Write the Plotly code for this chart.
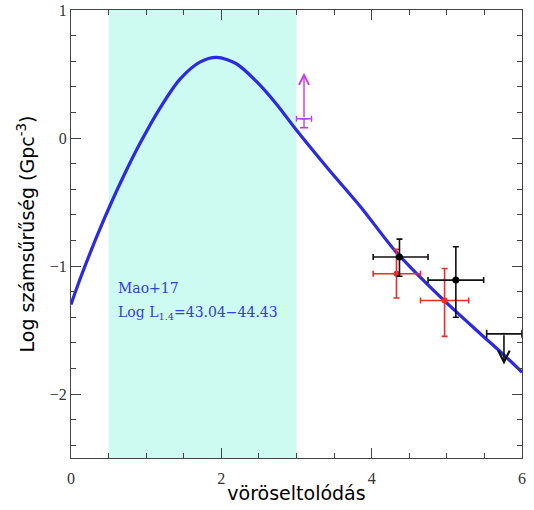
import plotly.graph_objects as go

# Model curve
curve_z = [0.0, 0.09, 0.23, 0.36, 0.54, 0.71, 0.92, 1.18, 1.45, 1.72, 1.94, 2.20, 2.47, 2.74, 2.98, 3.42, 3.87, 4.31, 4.91, 5.39, 5.75, 6.0]
curve_y = [-1.30, -1.15, -0.935, -0.745, -0.50, -0.285, -0.04, 0.23, 0.46, 0.595, 0.63, 0.58, 0.44, 0.26, 0.076, -0.24, -0.55, -0.88, -1.24, -1.50, -1.69, -1.83]

# Shaded redshift range
band = [0.5, 3.0]

# Black points
blk_z = [4.37, 5.12]
blk_y = [-0.93, -1.11]
blk_xm = [0.35, 0.37]
blk_xp = [0.38, 0.37]
blk_ym = [0.15, 0.29]
blk_yp = [0.14, 0.26]

# Red points
red_z = [4.33, 4.97]
red_y = [-1.06, -1.27]
red_xm = [0.31, 0.32]
red_xp = [0.32, 0.32]
red_ym = [0.19, 0.28]
red_yp = [0.19, 0.25]

# Magenta lower limit
mag_z = [3.10]
mag_y = [0.15]
mag_xerr = [0.10]
mag_ym = [0.07]
mag_arrow_to = [0.51]

# Black upper limit
ul_z = [5.76]
ul_y = [-1.53]
ul_xm = [0.23]
ul_xp = [0.24]
ul_arrow_to = [-1.77]

fig = go.Figure()

fig.add_vrect(x0=band[0], x1=band[1], fillcolor="#cdfaf1", line_width=0, layer="below")

fig.add_trace(go.Scatter(x=curve_z, y=curve_y, mode="lines",
                         line=dict(color="#2a2ae6", width=3.2, shape="spline", smoothing=0.8),
                         showlegend=False, hoverinfo="skip"))

fig.add_trace(go.Scatter(x=red_z, y=red_y, mode="markers",
                         marker=dict(color="#ee2a2a", size=6),
                         error_x=dict(type="data", symmetric=False, array=red_xp, arrayminus=red_xm,
                                      color="#ee2a2a", thickness=1.6, width=3),
                         error_y=dict(type="data", symmetric=False, array=red_yp, arrayminus=red_ym,
                                      color="#ee2a2a", thickness=1.6, width=3),
                         showlegend=False))

fig.add_trace(go.Scatter(x=blk_z, y=blk_y, mode="markers",
                         marker=dict(color="black", size=7),
                         error_x=dict(type="data", symmetric=False, array=blk_xp, arrayminus=blk_xm,
                                      color="#111111", thickness=1.6, width=3),
                         error_y=dict(type="data", symmetric=False, array=blk_yp, arrayminus=blk_ym,
                                      color="#111111", thickness=1.6, width=3),
                         showlegend=False))

fig.add_trace(go.Scatter(x=mag_z, y=mag_y, mode="markers",
                         marker=dict(color="#c23ce8", size=2),
                         error_x=dict(type="data", array=mag_xerr, color="#c23ce8", thickness=1.4, width=3),
                         error_y=dict(type="data", symmetric=False, array=[0], arrayminus=mag_ym,
                                      color="#c23ce8", thickness=1.4, width=4),
                         showlegend=False))

fig.add_trace(go.Scatter(x=ul_z, y=ul_y, mode="markers",
                         marker=dict(color="#111111", size=2),
                         error_x=dict(type="data", symmetric=False, array=ul_xp, arrayminus=ul_xm,
                                      color="#111111", thickness=1.6, width=4),
                         showlegend=False, cliponaxis=False))

for z, y0, y1 in zip(mag_z, mag_y, mag_arrow_to):
    fig.add_annotation(x=z, y=y1, ax=z, ay=y0, xref="x", yref="y", axref="x", ayref="y",
                       showarrow=True, arrowhead=5, arrowsize=1.4, arrowwidth=1.4,
                       arrowcolor="#c23ce8", text="")
for z, y0, y1 in zip(ul_z, ul_y, ul_arrow_to):
    fig.add_annotation(x=z, y=y1, ax=z, ay=y0, xref="x", yref="y", axref="x", ayref="y",
                       showarrow=True, arrowhead=5, arrowsize=1.4, arrowwidth=1.6,
                       arrowcolor="#111111", text="")

fig.add_annotation(x=0.6, y=-1.17, xref="x", yref="y", text="Mao+17", showarrow=False,
                   xanchor="left", yanchor="middle",
                   font=dict(family="DejaVu Serif", size=14, color="#3340d0"))
fig.add_annotation(x=0.6, y=-1.37, xref="x", yref="y",
                   text="Log L<sub>1.4</sub>=43.04\u221244.43", showarrow=False,
                   xanchor="left", yanchor="middle",
                   font=dict(family="DejaVu Serif", size=14, color="#3340d0"))

axis_common = dict(showline=True, linecolor="#444444", linewidth=1.2, mirror="allticks",
                   ticks="inside", tickcolor="#444444", showgrid=False, zeroline=False,
                   automargin=False,
                   tickfont=dict(family="Liberation Serif", size=16, color="#333333"))

fig.update_xaxes(range=[0, 6], dtick=2, tick0=0, ticklen=10, ticklabelstandoff=6,
                 minor=dict(dtick=0.5, ticklen=5, ticks="inside", tickcolor="#444444"),
                 title=dict(text="vöröseltolódás", font=dict(family="DejaVu Sans", size=19, color="black"),
                            standoff=0),
                 **axis_common)
fig.update_yaxes(range=[-2.5, 1], dtick=1, tick0=0, ticklen=10,
                 minor=dict(dtick=0.2, ticklen=5, ticks="inside", tickcolor="#444444"),
                 tickformat="d",
                 title=dict(text="Log számsűrűség (Gpc<sup>-3</sup>)",
                            font=dict(family="DejaVu Sans", size=19, color="black"), standoff=10),
                 **axis_common)

fig.update_layout(width=534, height=510, margin=dict(l=71, r=12, t=10, b=52),
                  plot_bgcolor="white", paper_bgcolor="white")

fig.write_html("out.html")
